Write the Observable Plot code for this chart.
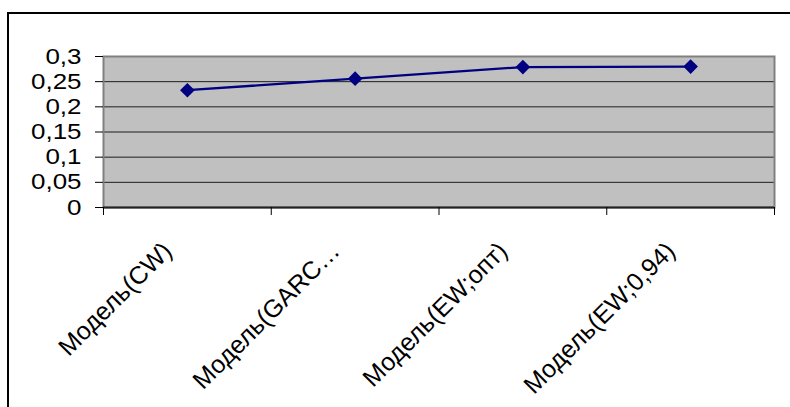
<!DOCTYPE html>
<html>
<head>
<meta charset="utf-8">
<script src="https://cdn.jsdelivr.net/npm/d3@7"></script>
<script src="https://cdn.jsdelivr.net/npm/@observablehq/plot@0.6"></script>
<style>
  html, body { margin: 0; padding: 0; background: #fff; }
  #wrap { position: relative; width: 790px; height: 407px; overflow: hidden; }
  #box { position: absolute; left: 7px; top: 12px; width: 800px; height: 420px;
         border-left: 2px solid #000; border-top: 2px solid #000; }
  #wrap svg { position: absolute; left: 0; top: 0; }
</style>
</head>
<body>
<div id="wrap"><div id="box"></div></div>
<script>
// Model names and their values
const categories = ["Модель(CW)", "Модель(GARC…", "Модель(EW;опт)", "Модель(EW;0,94)"];
const values = [0.233, 0.256, 0.279, 0.280];
const yTicks = [0, 0.05, 0.1, 0.15, 0.2, 0.25, 0.3];

const data = categories.map((name, i) => ({i, name, value: values[i]}));
const boundaries = d3.range(categories.length + 1).map(k => k - 0.5);
const comma = d => String(d).replace(".", ",");

const chart = Plot.plot({
  width: 790,
  height: 407,
  marginLeft: 103,
  marginRight: 16,
  marginTop: 56,
  marginBottom: 200,
  style: {fontFamily: "'Liberation Sans', Arial, sans-serif", background: "transparent"},
  x: {domain: [-0.5, categories.length - 0.5], axis: null},
  y: {domain: [0, 0.3], axis: null},
  marks: [
    Plot.frame({fill: "#c0c0c0", stroke: null}),
    Plot.gridY(yTicks.slice(1, -1), {stroke: "#000", strokeOpacity: 0.85, strokeWidth: 1}),
    Plot.frame({stroke: "#808080", strokeWidth: 2}),
    Plot.ruleY([0], {stroke: "#222", strokeWidth: 2}),
    Plot.axisY({ticks: yTicks, tickSize: 8, tickPadding: 14, tickFormat: comma,
                fontSize: 22, stroke: "#000", label: null}),
    Plot.axisX({ticks: boundaries, tickSize: 8, tickFormat: () => "", stroke: "#000", label: null}),
    Plot.text(data, {x: "i", text: "name", frameAnchor: "bottom", rotate: -45,
                     textAnchor: "end", dx: -14, dy: 45, fontSize: 25, fill: "#000"}),
    Plot.line(data, {x: "i", y: "value", stroke: "#000080", strokeWidth: 2.3}),
    Plot.dot(data, {x: "i", y: "value", symbol: "diamond2", r: 6.6, fill: "#000080", stroke: null})
  ]
});
document.getElementById("wrap").appendChild(chart);

// the value labels are set a little wider than the font's natural width
chart.querySelectorAll("text").forEach(t => {
  if (/^\d/.test(t.textContent)) {
    const len = t.getComputedTextLength();
    t.setAttribute("textLength", (len * 1.18).toFixed(1));
    t.setAttribute("lengthAdjust", "spacingAndGlyphs");
  }
});
</script>
</body>
</html>
